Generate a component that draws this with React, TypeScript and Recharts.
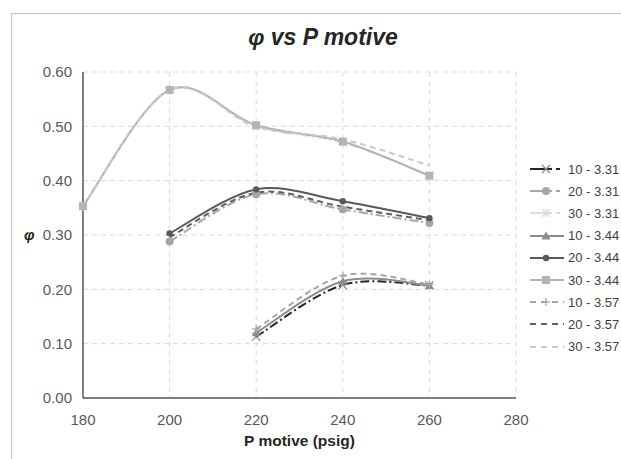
import React from 'react';
import { LineChart, Line, XAxis, YAxis, CartesianGrid } from 'recharts';

// x values (P motive, psig)
const pressures = [180, 200, 220, 240, 260];
const xTicks = [180, 200, 220, 240, 260, 280];
const yTicks = [0, 0.1, 0.2, 0.3, 0.4, 0.5, 0.6];

// phi readings per series (null = no point)
const s10_331 = [null, null, 0.113, 0.208, 0.207];
const s20_331 = [null, 0.288, 0.375, 0.347, 0.322];
const s30_331 = [0.353, 0.567, 0.5, 0.47, 0.41];
const s10_344 = [null, null, 0.12, 0.215, 0.207];
const s20_344 = [null, 0.303, 0.384, 0.362, 0.331];
const s30_344 = [0.353, 0.567, 0.502, 0.472, 0.409];
const s10_357 = [null, null, 0.127, 0.225, 0.209];
const s20_357 = [null, 0.296, 0.378, 0.352, 0.327];
const s30_357 = [0.353, 0.568, 0.499, 0.476, 0.428];

type Marker = 'x' | 'circle' | 'star' | 'triangle' | 'dot' | 'square' | 'plus' | 'none';

const series: { key: string; name: string; values: (number | null)[]; color: string; dash?: string; legendDash?: string; marker: Marker; markerColor: string }[] = [
  { key: 'a', name: '10 - 3.31', values: s10_331, color: '#262626', dash: '9 3 2 3', legendDash: '22 4 4 4', marker: 'x', markerColor: '#8c8c8c' },
  { key: 'b', name: '20 - 3.31', values: s20_331, color: '#a6a6a6', dash: '9 3 2 3', legendDash: '22 4 4 4', marker: 'circle', markerColor: '#a6a6a6' },
  { key: 'c', name: '30 - 3.31', values: s30_331, color: '#dcdcdc', dash: '9 3 2 3', legendDash: '22 4 4 4', marker: 'star', markerColor: '#dcdcdc' },
  { key: 'd', name: '10 - 3.44', values: s10_344, color: '#8c8c8c', marker: 'triangle', markerColor: '#8c8c8c' },
  { key: 'e', name: '20 - 3.44', values: s20_344, color: '#595959', marker: 'dot', markerColor: '#595959' },
  { key: 'f', name: '30 - 3.44', values: s30_344, color: '#b4b4b4', marker: 'square', markerColor: '#b4b4b4' },
  { key: 'g', name: '10 - 3.57', values: s10_357, color: '#a6a6a6', dash: '6 4', legendDash: '6 5', marker: 'plus', markerColor: '#a6a6a6' },
  { key: 'h', name: '20 - 3.57', values: s20_357, color: '#5f5f5f', dash: '6 4', legendDash: '6 5', marker: 'none', markerColor: '#5f5f5f' },
  { key: 'i', name: '30 - 3.57', values: s30_357, color: '#c8c8c8', dash: '6 4', legendDash: '6 5', marker: 'none', markerColor: '#c8c8c8' },
];

const data = pressures.map((p, i) => {
  const row: Record<string, number | null> = { x: p };
  series.forEach((s) => { row[s.key] = s.values[i]; });
  return row;
});

// Excel-style smoothed line (Catmull-Rom through the points)
const excelCurve = (context: any) => {
  let pts: [number, number][] = [];
  return {
    areaStart() {},
    areaEnd() {},
    lineStart() { pts = []; },
    point(x: number, y: number) { pts.push([+x, +y]); },
    lineEnd() {
      if (!pts.length) return;
      context.moveTo(pts[0][0], pts[0][1]);
      for (let i = 0; i < pts.length - 1; i++) {
        const p0 = pts[i - 1] || pts[i];
        const p1 = pts[i];
        const p2 = pts[i + 1];
        const p3 = pts[i + 2] || p2;
        context.bezierCurveTo(
          p1[0] + (p2[0] - p0[0]) / 6, p1[1] + (p2[1] - p0[1]) / 6,
          p2[0] - (p3[0] - p1[0]) / 6, p2[1] - (p3[1] - p1[1]) / 6,
          p2[0], p2[1],
        );
      }
    },
  };
};

function MarkerShape({ type, x, y, color }: { type: Marker; x: number; y: number; color: string }) {
  switch (type) {
    case 'x':
      return (
        <g stroke={color} strokeWidth={1.3}>
          <line x1={x - 4} y1={y - 4} x2={x + 4} y2={y + 4} />
          <line x1={x - 4} y1={y + 4} x2={x + 4} y2={y - 4} />
        </g>
      );
    case 'circle':
      return <circle cx={x} cy={y} r={4} fill={color} />;
    case 'dot':
      return <circle cx={x} cy={y} r={3.2} fill={color} />;
    case 'square':
      return <rect x={x - 4} y={y - 4} width={8} height={8} fill={color} />;
    case 'triangle':
      return <path d={`M${x},${y - 4.5}L${x + 4.5},${y + 3.5}L${x - 4.5},${y + 3.5}Z`} fill={color} />;
    case 'plus':
      return (
        <g stroke={color} strokeWidth={1.3}>
          <line x1={x - 4} y1={y} x2={x + 4} y2={y} />
          <line x1={x} y1={y - 4} x2={x} y2={y + 4} />
        </g>
      );
    case 'star':
      return (
        <g stroke={color} strokeWidth={1.2}>
          <line x1={x - 4} y1={y - 4} x2={x + 4} y2={y + 4} />
          <line x1={x - 4} y1={y + 4} x2={x + 4} y2={y - 4} />
          <line x1={x} y1={y - 4.5} x2={x} y2={y + 4.5} />
        </g>
      );
    default:
      return null;
  }
}

const font = '"Liberation Sans", Arial, sans-serif';

function LegendBox() {
  return (
    <div style={{ position: 'absolute', left: 528, top: 158, fontFamily: font, fontSize: 13, color: '#404040' }}>
      {series.map((s) => (
        <div key={s.key} style={{ display: 'flex', alignItems: 'center', height: 22.2 }}>
          <svg width={40} height={12} style={{ display: 'block' }}>
            <line x1={2} y1={6} x2={36} y2={6} stroke={s.color} strokeWidth={2} strokeDasharray={s.legendDash} />
            <MarkerShape type={s.marker} x={18} y={6} color={s.markerColor} />
          </svg>
          <span style={{ whiteSpace: 'nowrap' }}>{s.name}</span>
        </div>
      ))}
    </div>
  );
}

export default function App() {
  return (
    <div style={{ position: 'absolute', left: 0, top: 0, width: 621, height: 459, overflow: 'hidden', background: '#fff' }}>
      <div style={{ position: 'absolute', left: 11, top: 13, width: 700, height: 600, border: '1px solid #c4c4c4' }} />
      <div style={{ position: 'absolute', left: 0, width: 646, top: 24, textAlign: 'center', fontFamily: font, fontWeight: 'bold', fontStyle: 'italic', fontSize: 23, color: '#262626' }}>
        φ vs P motive
      </div>
      <div style={{ position: 'absolute', left: 0, top: 0 }}>
        <LineChart width={621} height={459} data={data} margin={{ top: 72, right: 105, bottom: 1, left: 10 }}>
          <CartesianGrid stroke="#d9d9d9" strokeDasharray="5 4" />
          <XAxis
            dataKey="x"
            type="number"
            domain={[180, 280]}
            ticks={xTicks}
            height={60}
            tickLine={false}
            tickMargin={10}
            axisLine={{ stroke: '#595959', strokeWidth: 1.5 }}
            tick={{ fill: '#595959', fontSize: 15, fontFamily: font }}
            label={{ value: 'P motive (psig)', position: 'insideBottom', offset: 12, fill: '#262626', fontSize: 15.5, fontWeight: 'bold', fontFamily: font }}
          />
          <YAxis
            type="number"
            domain={[0, 0.6]}
            ticks={yTicks}
            width={73}
            tickLine={false}
            tickMargin={5}
            axisLine={{ stroke: '#595959', strokeWidth: 1.5 }}
            tick={{ fill: '#595959', fontSize: 15, fontFamily: font }}
            tickFormatter={(v: number) => v.toFixed(2)}
            label={{ value: 'φ', position: 'insideLeft', offset: 14, fill: '#262626', fontSize: 15, fontWeight: 'bold', fontStyle: 'italic', fontFamily: font }}
          />
          {series.map((s) => (
            <Line
              key={s.key}
              dataKey={s.key}
              name={s.name}
              type={excelCurve as any}
              stroke={s.color}
              strokeWidth={2}
              strokeDasharray={s.dash}
              isAnimationActive={false}
              activeDot={false}
              dot={(p: any) => (
                <g key={`${s.key}-${p.index}`}>
                  {p.cx != null && p.cy != null && p.value != null ? (
                    <MarkerShape type={s.marker} x={p.cx} y={p.cy} color={s.markerColor} />
                  ) : null}
                </g>
              )}
            />
          ))}
        </LineChart>
      </div>
      <LegendBox />
    </div>
  );
}
